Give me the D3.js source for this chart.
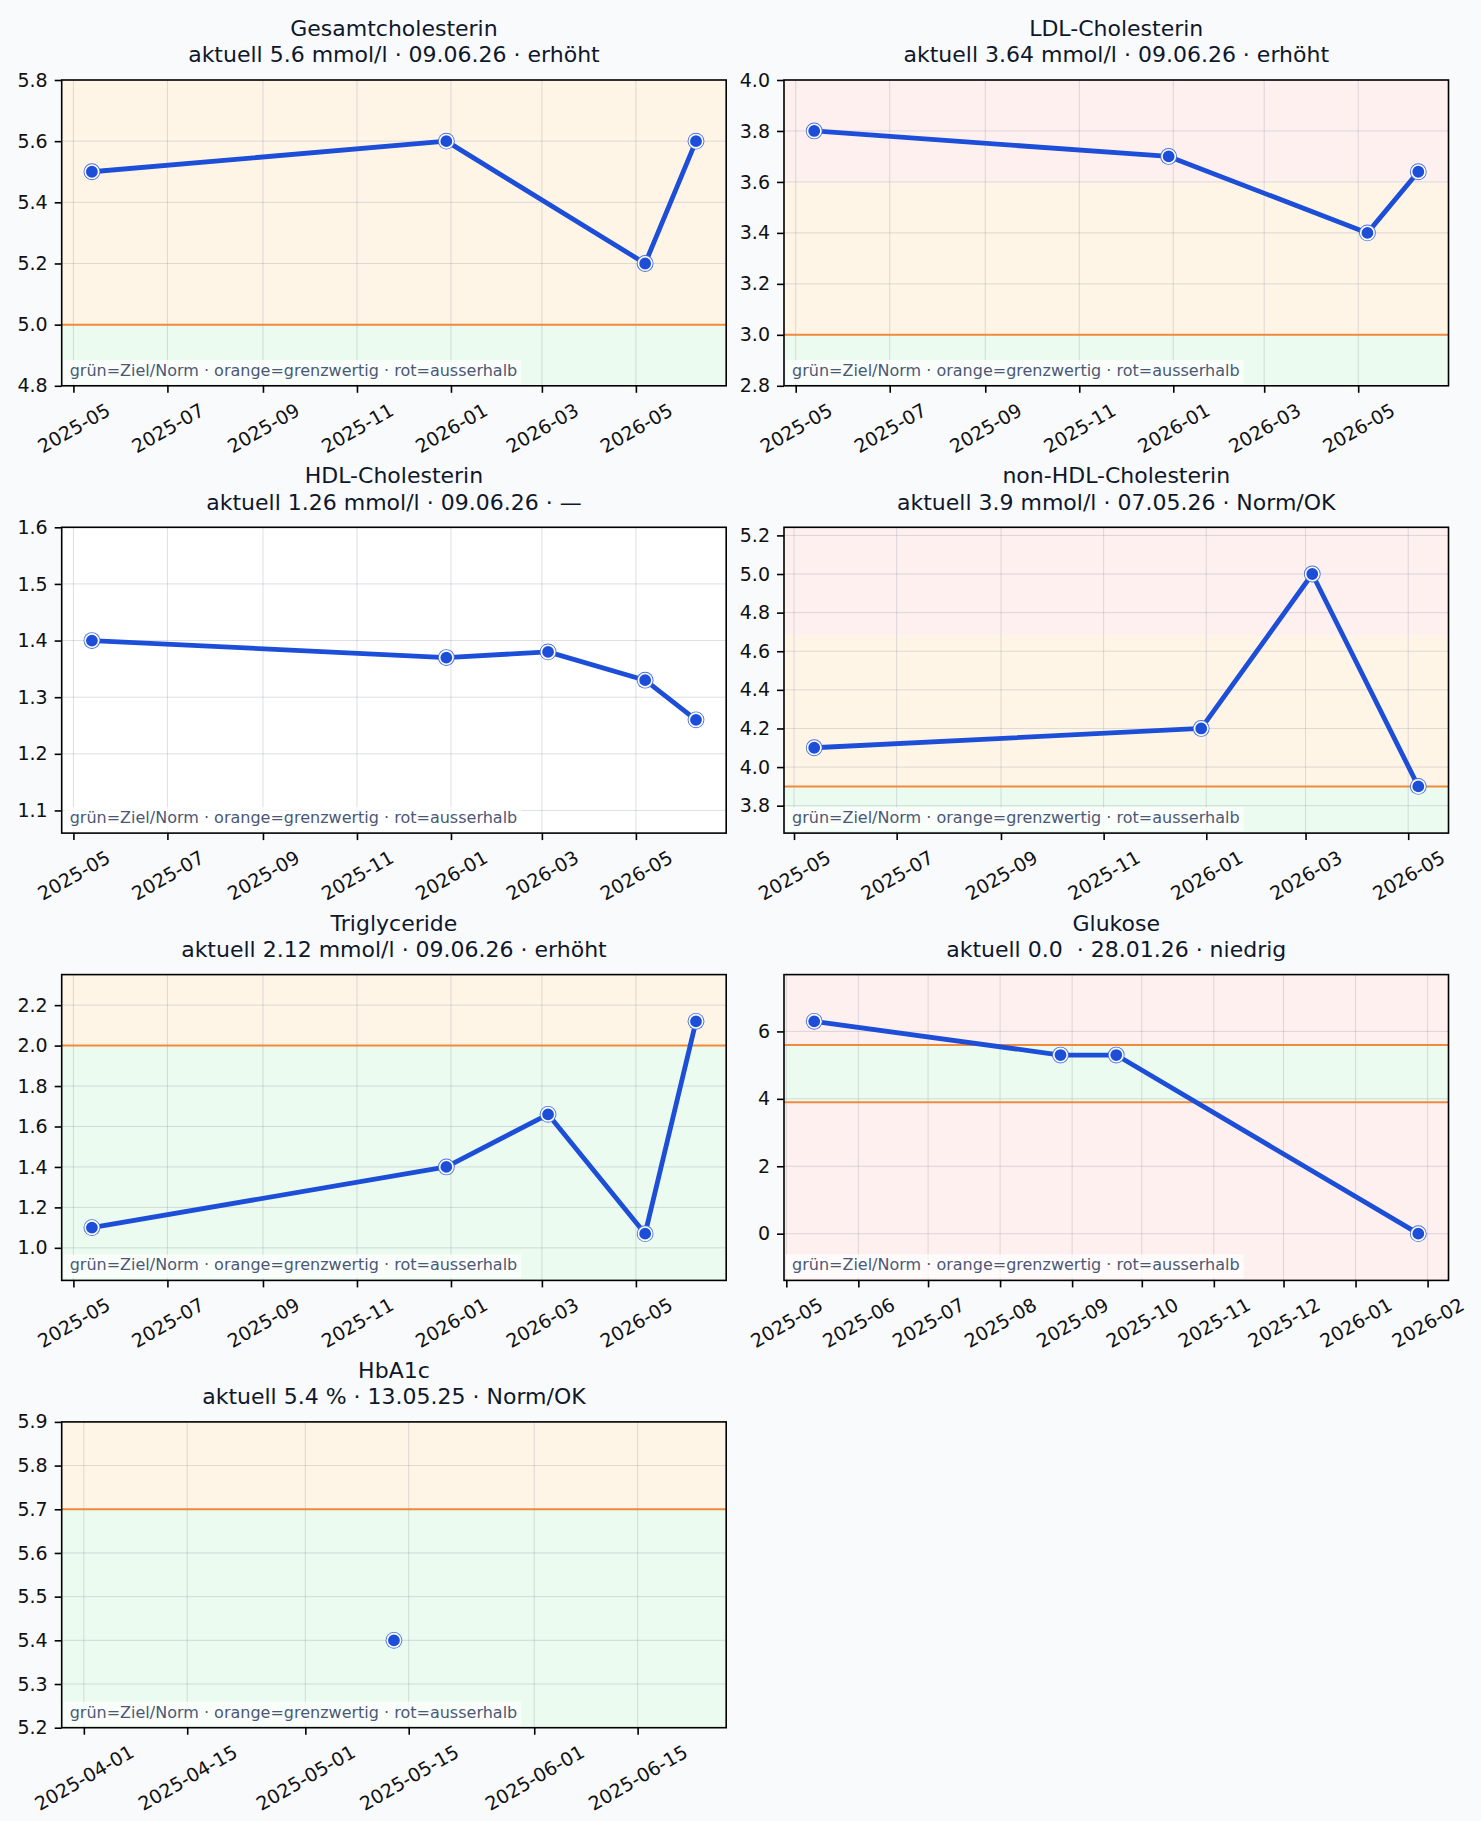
<!DOCTYPE html>
<html>
<head>
<meta charset="utf-8">
<script src="https://cdn.jsdelivr.net/npm/d3@7"></script>
<style>
  body { margin: 0; background: #f8fafc; }
  svg text { font-family: "DejaVu Sans", sans-serif; }
</style>
</head>
<body>
<svg id="fig" width="1481" height="1821"></svg>
<script>
// --- Werte ---
var titles = ["Gesamtcholesterin", "LDL-Cholesterin", "HDL-Cholesterin", "non-HDL-Cholesterin",
              "Triglyceride", "Glukose", "HbA1c"];
var subtitles = ["aktuell 5.6 mmol/l · 09.06.26 · erhöht",
                 "aktuell 3.64 mmol/l · 09.06.26 · erhöht",
                 "aktuell 1.26 mmol/l · 09.06.26 · —",
                 "aktuell 3.9 mmol/l · 07.05.26 · Norm/OK",
                 "aktuell 2.12 mmol/l · 09.06.26 · erhöht",
                 "aktuell 0.0  · 28.01.26 · niedrig",
                 "aktuell 5.4 % · 13.05.25 · Norm/OK"];

var gesamtDates = ["2025-05-13", "2025-12-29", "2026-05-07", "2026-06-09"];
var gesamtValues = [5.5, 5.6, 5.2, 5.6];
var ldlDates = ["2025-05-13", "2025-12-29", "2026-05-07", "2026-06-09"];
var ldlValues = [3.80, 3.70, 3.40, 3.64];
var hdlDates = ["2025-05-13", "2025-12-29", "2026-03-05", "2026-05-07", "2026-06-09"];
var hdlValues = [1.40, 1.37, 1.38, 1.33, 1.26];
var nonHdlDates = ["2025-05-13", "2025-12-29", "2026-03-05", "2026-05-07"];
var nonHdlValues = [4.1, 4.2, 5.0, 3.9];
var trigDates = ["2025-05-13", "2025-12-29", "2026-03-05", "2026-05-07", "2026-06-09"];
var trigValues = [1.10, 1.40, 1.66, 1.07, 2.12];
var glukDates = ["2025-05-13", "2025-08-27", "2025-09-20", "2026-01-28"];
var glukValues = [6.3, 5.3, 5.3, 0.0];
var hba1cDates = ["2025-05-13"];
var hba1cValues = [5.4];

// Zonen je Panel: [von, bis, art]  (g = grün, o = orange, r = rot)
var zones = [
  [[-99, 5.0, "g"], [5.0, 6.0, "o"], [6.0, 99, "r"]],
  [[-99, 3.0, "g"], [3.0, 3.6, "o"], [3.6, 99, "r"]],
  [],
  [[-99, 3.9, "g"], [3.9, 4.68, "o"], [4.68, 99, "r"]],
  [[-99, 2.0, "g"], [2.0, 2.4, "o"], [2.4, 99, "r"]],
  [[-99, 3.9, "r"], [3.9, 5.6, "g"], [5.6, 99, "r"]],
  [[-99, 5.7, "g"], [5.7, 6.84, "o"], [6.84, 99, "r"]]
];
var thresholds = [[5.0], [3.0], [], [3.9], [2.0], [3.9, 5.6], [5.7]];
var tickModes = ["2m", "2m", "2m", "2m", "2m", "1m", "half"];

var allDates = [gesamtDates, ldlDates, hdlDates, nonHdlDates, trigDates, glukDates, hba1cDates];
var allValues = [gesamtValues, ldlValues, hdlValues, nonHdlValues, trigValues, glukValues, hba1cValues];

var legendText = "grün=Ziel/Norm · orange=grenzwertig · rot=ausserhalb";

// --- Layout ---
var colX = [61.7, 784];
var rowY = [80, 527.3, 974.6, 1421.9];
var W = 664.5, H = 305.8;
var zoneFill = { g: "#ebfbef", o: "#fff5e7", r: "#fff0f0" };
var blue = "#1d4ed8";
var tickFs = 19;

var parse = d3.utcParse("%Y-%m-%d");
var svg = d3.select("#fig");
svg.append("rect").attr("width", 1481).attr("height", 1821).attr("fill", "#f8fafc");

function r6(v) { return Math.round(v * 1e6) / 1e6; }

titles.forEach(function(title, i) {
  var x0 = colX[i % 2], y0 = rowY[Math.floor(i / 2)];
  var dates = allDates[i].map(parse);
  var vals = allValues[i];
  var pts = dates.map(function(d, k) { return { d: d, v: vals[k] }; });

  // x-Bereich: 5 % Rand, bei einem Punkt +-45 Tage
  var dmin = d3.min(dates), dmax = d3.max(dates);
  var span = dmax - dmin;
  var xpad = span > 0 ? span * 0.05 : 45 * 864e5;
  var x = d3.scaleUtc().domain([new Date(+dmin - xpad), new Date(+dmax + xpad)]).range([0, W]);

  var lo = d3.min(vals.concat(thresholds[i])), hi = d3.max(vals.concat(thresholds[i]));
  var ypad = Math.max(0.2, 0.22 * (hi - lo));
  var y = d3.scaleLinear().domain([r6(lo - ypad), r6(hi + ypad)]).range([H, 0]);

  var g = svg.append("g").attr("transform", "translate(" + x0 + "," + y0 + ")");
  var clipId = "clip" + i;
  g.append("clipPath").attr("id", clipId).append("rect").attr("width", W).attr("height", H);

  g.append("rect").attr("width", W).attr("height", H).attr("fill", "#ffffff");

  var inner = g.append("g").attr("clip-path", "url(#" + clipId + ")");
  inner.selectAll("rect.zone").data(zones[i]).enter().append("rect")
    .attr("class", "zone")
    .attr("x", 0).attr("width", W)
    .attr("y", function(z) { return Math.max(0, y(z[1])); })
    .attr("height", function(z) { return Math.min(H, y(z[0])) - Math.max(0, y(z[1])); })
    .attr("fill", function(z) { return zoneFill[z[2]]; });

  var xTicks;
  if (tickModes[i] === "2m") xTicks = x.ticks(d3.utcMonth.every(2));
  else if (tickModes[i] === "1m") xTicks = x.ticks(d3.utcMonth.every(1));
  else xTicks = x.ticks(d3.utcDay.filter(function(d) { var n = d.getUTCDate(); return n === 1 || n === 15; }));
  var xFmt = tickModes[i] === "half" ? d3.utcFormat("%Y-%m-%d") : d3.utcFormat("%Y-%m");
  var yTicks = y.ticks(6);

  // Gitter
  inner.selectAll("line.gy").data(yTicks).enter().append("line")
    .attr("x1", 0).attr("x2", W).attr("y1", y).attr("y2", y)
    .attr("stroke", "#8a94a6").attr("stroke-opacity", 0.3).attr("stroke-width", 1);
  inner.selectAll("line.gx").data(xTicks).enter().append("line")
    .attr("y1", 0).attr("y2", H).attr("x1", x).attr("x2", x)
    .attr("stroke", "#8a94a6").attr("stroke-opacity", 0.3).attr("stroke-width", 1);

  // Grenzwerte
  inner.selectAll("line.thr").data(thresholds[i]).enter().append("line")
    .attr("x1", 0).attr("x2", W).attr("y1", y).attr("y2", y)
    .attr("stroke", "#f28a3c").attr("stroke-width", 2);

  // Verlauf
  var line = d3.line().x(function(p) { return x(p.d); }).y(function(p) { return y(p.v); });
  if (pts.length > 1) {
    inner.append("path").datum(pts).attr("d", line)
      .attr("fill", "none").attr("stroke", blue).attr("stroke-width", 4.8)
      .attr("stroke-linejoin", "round").attr("stroke-linecap", "round");
  }
  inner.selectAll("circle.outer").data(pts).enter().append("circle")
    .attr("cx", function(p) { return x(p.d); }).attr("cy", function(p) { return y(p.v); })
    .attr("r", 8.4).attr("fill", "#4a72e0");
  inner.selectAll("circle.dot").data(pts).enter().append("circle")
    .attr("cx", function(p) { return x(p.d); }).attr("cy", function(p) { return y(p.v); })
    .attr("r", 6.7).attr("fill", blue).attr("stroke", "#ffffff").attr("stroke-width", 1.6);

  // Legendenhinweis
  var lg = g.append("g");
  var lbox = lg.append("rect").attr("fill", "#ffffff").attr("fill-opacity", 0.75);
  var lt = lg.append("text").attr("x", 8).attr("y", H - 10)
    .attr("font-size", 16).attr("fill", "#4b5875").text(legendText);
  var L = lt.node().getComputedTextLength();
  lbox.attr("x", 2).attr("y", H - 26).attr("width", L + 10).attr("height", 24);

  // Rahmen
  g.append("rect").attr("width", W).attr("height", H)
    .attr("fill", "none").attr("stroke", "#000").attr("stroke-width", 1.6);

  // Achsen
  var ay = g.append("g").call(d3.axisLeft(y).tickValues(yTicks).tickFormat(y.tickFormat(6)).tickSize(7).tickPadding(7));
  ay.select(".domain").remove();
  ay.attr("font-family", null).attr("font-size", null);
  ay.selectAll(".tick line").attr("stroke", "#000").attr("stroke-width", 1.6);
  ay.selectAll(".tick text").attr("font-size", tickFs).attr("fill", "#111");

  var ax = g.append("g").attr("transform", "translate(0," + H + ")")
    .call(d3.axisBottom(x).tickValues(xTicks).tickFormat(xFmt).tickSize(7).tickPadding(7));
  ax.select(".domain").remove();
  ax.attr("font-family", null).attr("font-size", null);
  ax.selectAll(".tick line").attr("stroke", "#000").attr("stroke-width", 1.6);
  ax.selectAll(".tick text").attr("font-size", tickFs).attr("fill", "#111")
    .each(function() {
      var t = d3.select(this);
      var len = this.getComputedTextLength();
      var bh = len * 0.5 + 1.16 * tickFs * 0.866;
      t.attr("y", 0).attr("dy", "0.35em").attr("text-anchor", "middle")
        .attr("transform", "translate(0," + (13 + bh / 2) + ") rotate(-30)");
    });

  // Titel
  g.append("text").attr("x", W / 2).attr("y", -44).attr("text-anchor", "middle")
    .attr("font-size", 22).attr("fill", "#0f172a").text(title);
  g.append("text").attr("x", W / 2).attr("y", -17.7).attr("text-anchor", "middle")
    .attr("font-size", 22).attr("fill", "#0f172a").style("white-space", "pre").text(subtitles[i]);
});
</script>
</body>
</html>
